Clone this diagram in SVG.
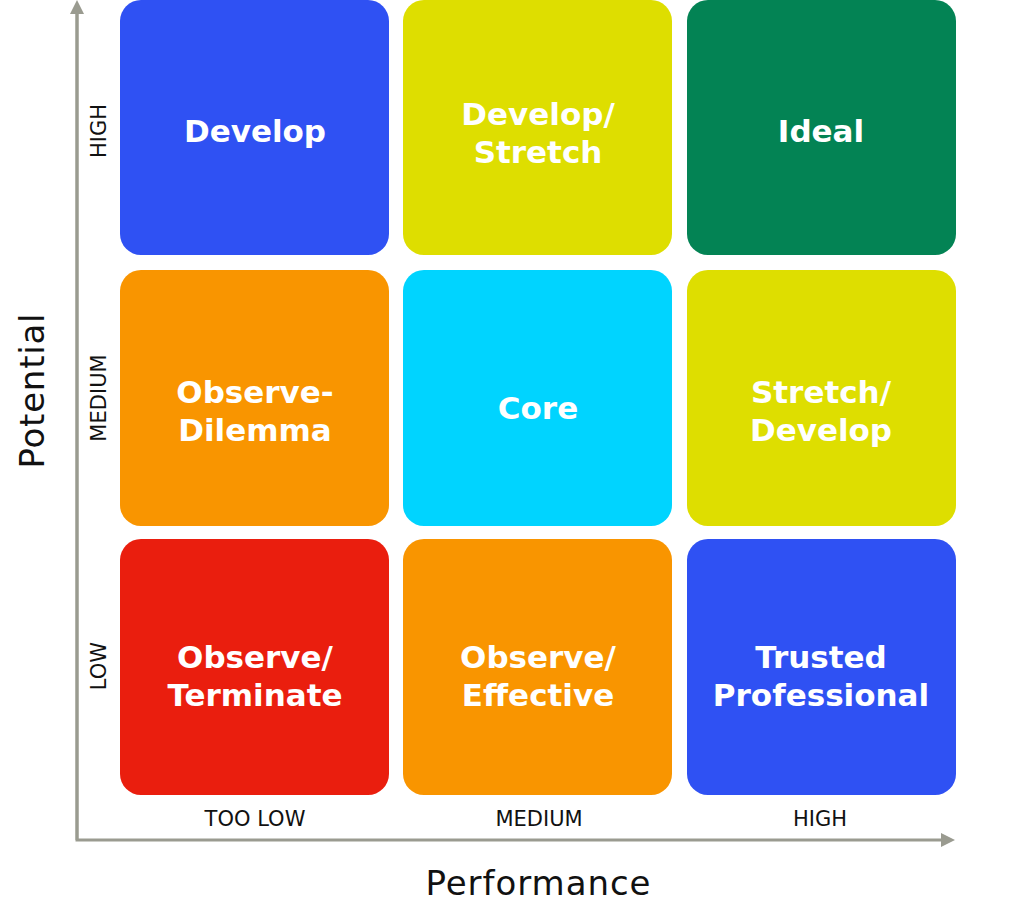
<svg xmlns="http://www.w3.org/2000/svg" width="1024" height="923" viewBox="0 0 1024 923">
<style>
.cell{font-family:"DejaVu Sans","Noto Sans",sans-serif;font-weight:bold;font-size:31px;fill:#ffffff;text-anchor:middle}
.lbl{font-family:"DejaVu Sans","Noto Sans",sans-serif;font-size:21px;fill:#111111;text-anchor:middle}
.ax{font-family:"DejaVu Sans","Noto Sans",sans-serif;font-size:34px;fill:#111111;text-anchor:middle}
.axis{stroke:#9a9b90;stroke-width:3;fill:none}
</style>
<defs>
<marker id="arr" viewBox="0 0 14 14" refX="2" refY="7" markerWidth="14" markerHeight="14" markerUnits="userSpaceOnUse" orient="auto">
<path d="M0,0 L14,7 L0,14 Z" fill="#9a9b90"/>
</marker>
</defs>
<rect width="1024" height="923" fill="#ffffff"/>
<g id="connectors">
<path class="axis" d="M77,12 L77,840 L943,840" marker-end="url(#arr)"/>
<path class="axis" d="M77,840 L77,12" marker-end="url(#arr)"/>
</g>
<g id="develop"><rect x="120" y="0" width="269" height="255" rx="21" fill="#2f51f3"/><text class="cell" x="255" y="142">Develop</text></g>
<g id="develop-stretch"><rect x="403" y="0" width="269" height="255" rx="21" fill="#dede00"/><text class="cell" x="538" y="125">Develop/</text><text class="cell" x="538" y="163">Stretch</text></g>
<g id="ideal"><rect x="687" y="0" width="269" height="255" rx="21" fill="#038354"/><text class="cell" x="821" y="142">Ideal</text></g>
<g id="observe-dilemma"><rect x="120" y="270" width="269" height="256" rx="21" fill="#f99500"/><text class="cell" x="255" y="403">Observe-</text><text class="cell" x="255" y="441">Dilemma</text></g>
<g id="core"><rect x="403" y="270" width="269" height="256" rx="21" fill="#00d4ff"/><text class="cell" x="538" y="419">Core</text></g>
<g id="stretch-develop"><rect x="687" y="270" width="269" height="256" rx="21" fill="#dede00"/><text class="cell" x="821" y="403">Stretch/</text><text class="cell" x="821" y="441">Develop</text></g>
<g id="observe-terminate"><rect x="120" y="539" width="269" height="256" rx="21" fill="#ea1e0e"/><text class="cell" x="255" y="668">Observe/</text><text class="cell" x="255" y="706">Terminate</text></g>
<g id="observe-effective"><rect x="403" y="539" width="269" height="256" rx="21" fill="#f99500"/><text class="cell" x="538" y="668">Observe/</text><text class="cell" x="538" y="706">Effective</text></g>
<g id="trusted-professional"><rect x="687" y="539" width="269" height="256" rx="21" fill="#2f51f3"/><text class="cell" x="821" y="668">Trusted</text><text class="cell" x="821" y="706">Professional</text></g>
<g id="axis-labels">
<text class="lbl" x="255" y="826">TOO LOW</text>
<text class="lbl" x="539" y="826">MEDIUM</text>
<text class="lbl" x="820" y="826">HIGH</text>
<text class="lbl" transform="translate(106,131) rotate(-90)">HIGH</text>
<text class="lbl" transform="translate(106,398) rotate(-90)">MEDIUM</text>
<text class="lbl" transform="translate(106,666) rotate(-90)">LOW</text>
<text class="ax" x="538" y="895" textLength="225">Performance</text>
<text class="ax" transform="translate(44,391) rotate(-90)" textLength="155">Potential</text>
</g>
</svg>
